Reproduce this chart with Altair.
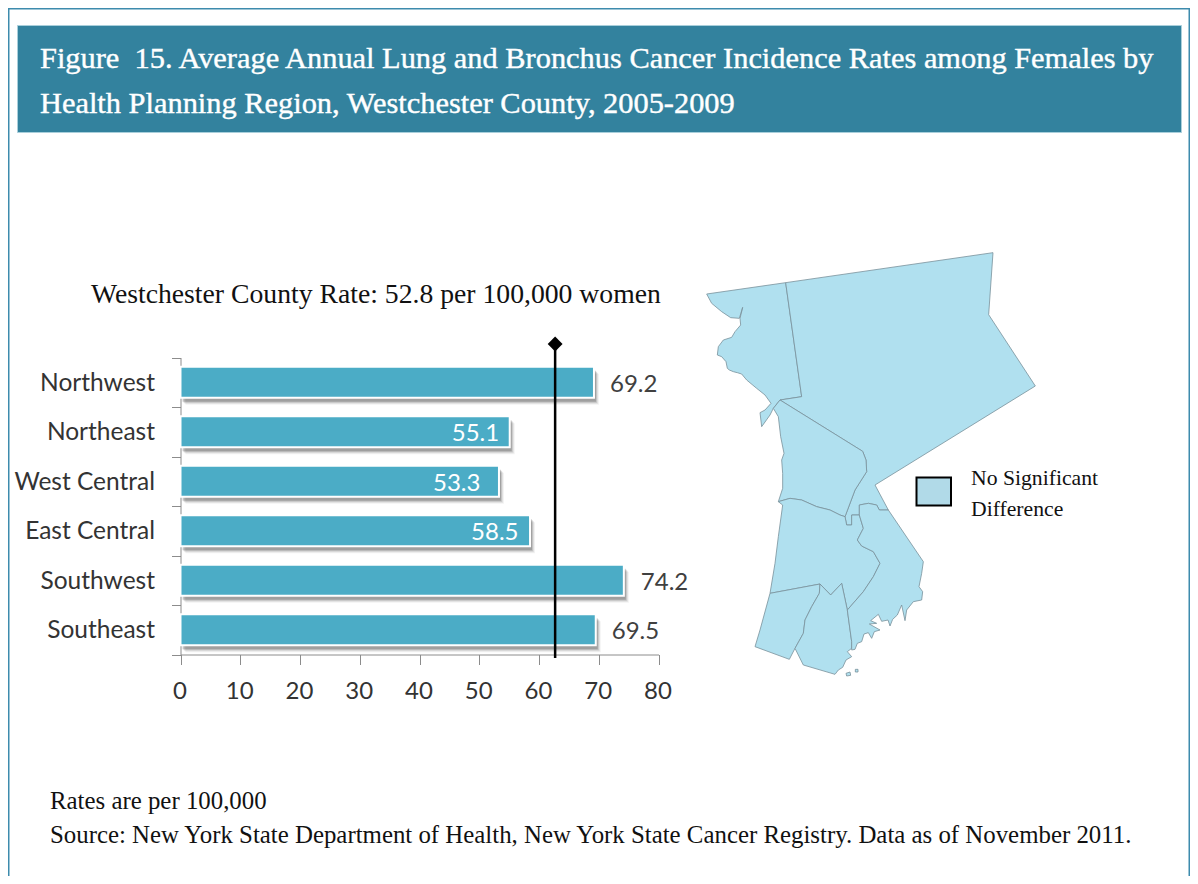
import altair as alt
import pandas as pd

# ---- values ----
regions = ["Northwest", "Northeast", "West Central", "East Central", "Southwest", "Southeast"]
rates = [69.2, 55.1, 53.3, 58.5, 74.2, 69.5]
label_dx = [16, -58, -66, -59, 17, 16]
label_colors = ["#404040", "#ffffff", "#ffffff", "#ffffff", "#404040", "#404040"]
x_ticks = [0, 10, 20, 30, 40, 50, 60, 70, 80]
marker_rate = [62.7]

title_lines = [
    "Figure\u00a0\u00a015. Average Annual Lung and Bronchus Cancer Incidence Rates among Females by",
    "Health Planning Region, Westchester County, 2005-2009",
]
subtitle = "Westchester County Rate: 52.8 per 100,000 women"
legend_lines = ["No Significant", "Difference"]
note_lines = [
    "Rates are per 100,000",
    "Source: New York State Department of Health, New York State Cancer Registry. Data as of November 2011.",
]

def a(pts):
    return [[690 + x / 3, 240 + y / 3] for x, y in pts]
def b(pts):
    return [[740 + x / 3, 460 + y / 3] for x, y in pts]

map_nw = a([(50,162),(287,128),(335,470),(270,480),(250,505),(240,525),(215,560),(210,518),(225,510),(243,490),
            (225,465),(200,445),(170,420),(155,402),(142,398),(130,395),(118,390),(112,385),(108,365),(95,350),(82,345),(85,320),
            (100,300),(125,292),(135,275),(152,255),(150,235),(158,202),(148,235),(122,233),(95,215),(65,190)])
map_ne = a([(287,128),(909,38),(896,224),(1036,438)]) + b([(405,75),(445,150),(418,150),(410,135),(385,130),(358,135),
            (358,165),(335,165),(335,195),(320,195),(315,170),(345,90),(380,35),(378,0)]) + a([(518,634),(270,480),(335,470)])
map_wc = a([(270,480),(518,634)]) + b([(378,0),(380,35),(345,90),(315,170),(300,165),(270,150),(230,140),(185,120),
            (150,115),(115,125),(128,85),(128,40),(125,0)]) + a([(282,640),(272,590),(265,530),(250,505)])
map_sw = b([(115,125),(150,115),(185,120),(230,140),(270,150),(300,165),(315,170),(320,195),(335,195),(335,165),(358,165),
            (370,205),(352,240),(365,258),(400,275),(420,310),(400,350),(370,395),(322,450),(305,370),(272,405),
            (240,372),(90,400),(105,310),(115,230),(128,135)])
map_ll = b([(90,400),(240,372),(238,400),(215,440),(195,480),(190,520),(165,565),(148,598),(45,560),(60,510)])
map_lm = b([(240,372),(272,405),(305,370),(322,450),(335,545),(335,565),(322,575),(335,590),(318,600),(308,622),(295,630),(285,643),(190,615),(165,565),
            (190,520),(195,480),(215,440),(238,400)])
map_se = b([(358,135),(385,130),(410,135),(418,150),(445,150),(550,305),(545,340),(537,380),(548,395),(545,420),(520,425),(500,450),
            (495,482),(485,435),(472,465),(458,478),(450,498),(444,480),(425,484),(415,463),(392,482),(410,490),(388,492),(420,510),(403,515),(395,535),(385,518),
            (372,522),(365,545),(352,550),(345,568),(335,570),(335,545),(322,450),(370,395),(400,350),(420,310),(400,275),(365,258),(352,240),
            (370,205),(358,165)])
map_isle1 = b([(318,640),(330,636),(332,646),(320,648)])
map_isle2 = b([(346,628),(354,628),(354,636),(346,636)])
map_polys = [map_nw, map_ne, map_wc, map_sw, map_ll, map_lm, map_se, map_isle1, map_isle2]

# ---- data tables ----
df = pd.DataFrame({"region": regions, "rate": rates})

def closed(ring):
    return ring + [ring[0]]

features = [
    {"type": "Feature", "properties": {"i": i}, "geometry": {"type": "Polygon", "coordinates": [closed(p)]}}
    for i, p in enumerate(map_polys)
]

OX, OY = 8, 8  # page margin: chart coordinates = page pixels - margin
W, H = 1182, 868

def px(v):
    return alt.value(v - OX)
def py(v):
    return alt.value(v - OY)

def text(s, x, y, size, color="#111111", font="Liberation Serif", halo=0):
    kw = {}
    if halo:
        kw = {"stroke": color, "strokeWidth": halo}
    return alt.Chart(pd.DataFrame({"t": [s]})).mark_text(
        font=font, fontSize=size, color=color, align="left", baseline="middle", **kw
    ).encode(x=px(x), y=py(y), text="t:N")

def box(x0, y0, x1, y1, fill, stroke=None, sw=1):
    kw = {"fill": fill, "strokeWidth": sw}
    if stroke:
        kw["stroke"] = stroke
    return alt.Chart(pd.DataFrame({"a": [0]})).mark_rect(**kw).encode(
        x=px(x0), x2=px(x1), y=py(y0), y2=py(y1)
    )

x_enc = alt.X(
    "rate:Q",
    title=None,
    scale=alt.Scale(domain=[0, 80], range=[180.5 - OX, 658.5 - OX], nice=False),
    axis=alt.Axis(
        values=x_ticks, offset=-(H - (654.5 - OY)), grid=False, tickSize=10, tickColor="#8c8c8c",
        domainColor="#8c8c8c", labelFont="Lato", labelFontSize=24, labelColor="#333333", labelPadding=15,
        labelOverlap=False, labelFlush=False, labelOffset=-1,
    ),
)
y_enc = alt.Y(
    "region:N",
    title=None,
    sort=regions,
    scale=alt.Scale(domain=regions, range=[357.5 - OY, 654.5 - OY], paddingInner=0, paddingOuter=0),
    axis=alt.Axis(
        offset=-(180.5 - OX), grid=False, tickSize=9, tickBand="extent", tickColor="#8c8c8c",
        domainColor="#8c8c8c", labelFont="Lato", labelFontSize=24.5, labelColor="#333333", labelPadding=17,
        labelLimit=200, labelOffset=1,
    ),
)

base = alt.Chart(df).encode(x=x_enc, y=y_enc)

shadows = [
    base.mark_bar(size=31, color="#000000", opacity=op, yOffset=yo, xOffset=xo)
    for op, yo, xo in [(0.05, 7, 5), (0.08, 6, 4), (0.12, 5, 3), (0.18, 4, 2)]
]
bars = base.mark_bar(size=31, color="#4BACC6", stroke="#ffffff", strokeWidth=2)

value_labels = [
    alt.Chart(df.iloc[[i]]).mark_text(
        font="Lato", fontSize=24, align="left", baseline="middle", dx=label_dx[i], dy=2.5, color=label_colors[i]
    ).encode(x=alt.X("rate:Q"), y=alt.Y("region:N", sort=regions), text=alt.Text("rate:Q", format=".1f"))
    for i in range(len(regions))
]

marker_df = pd.DataFrame({"rate": marker_rate})
rule = alt.Chart(marker_df).mark_rule(color="#000000", strokeWidth=2.5).encode(
    x=alt.X("rate:Q"), y=py(344), y2=py(658)
)
diamond = alt.Chart(marker_df).mark_point(shape="diamond", size=220, filled=True, color="#000000", opacity=1).encode(
    x=alt.X("rate:Q"), y=py(344)
)

projection = alt.Projection(type="identity", scale=1, translate=[-OX, -OY])
county = alt.Chart(alt.Data(values=features)).mark_geoshape(
    fill="#B0E0EF", stroke="#78909a", strokeWidth=0.8
).project(**projection.to_dict())

layers = [
    box(8.5, 8.5, 1189.5, 890, "transparent", "#3d8bad", 2),
    box(17.5, 25.5, 1181.5, 132.5, "#33829E", "#a9cfdb", 1),
    text(title_lines[0], 40, 59, 30.4, color="#ffffff", halo=0.4),
    text(title_lines[1], 40, 104, 30.4, color="#ffffff", halo=0.4),
    text(subtitle, 91, 295, 27.7),
    *shadows,
    bars,
    rule,
    diamond,
    *value_labels,
    county,
    box(916.5, 477.5, 951, 505.5, "#B1DAE8", "#000000", 2),
    text(legend_lines[0], 971, 478, 21.7),
    text(legend_lines[1], 971, 509, 21.7),
    text(note_lines[0], 50, 802, 24.85),
    text(note_lines[1], 50, 835.5, 24.85),
]

chart = alt.layer(*layers).properties(
    width=W, height=H, padding=0, autosize=alt.AutoSizeParams(type="none")
).configure_view(stroke=None)

chart.save("out.html", embed_options={"renderer": "svg", "actions": False})
